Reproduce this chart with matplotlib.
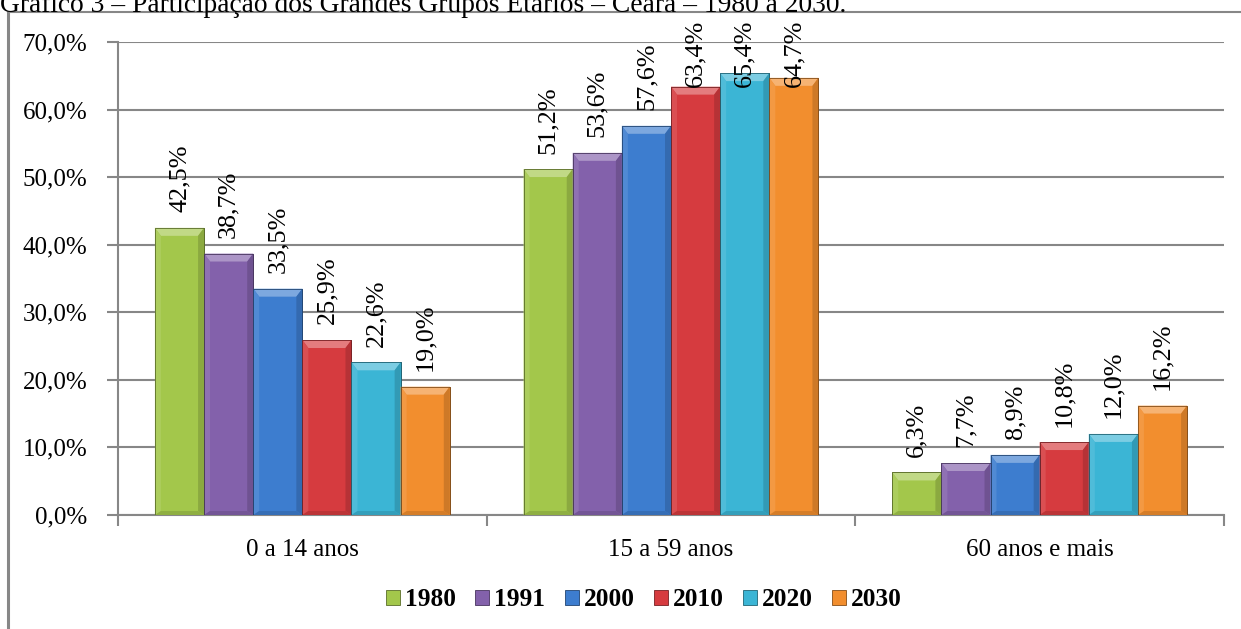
import matplotlib
matplotlib.use("Agg")
import matplotlib.pyplot as plt
from matplotlib.patches import Rectangle, Polygon
from matplotlib.lines import Line2D
from matplotlib.colors import to_rgb
import numpy as np

categories = ["0 a 14 anos", "15 a 59 anos", "60 anos e mais"]
years = ["1980", "1991", "2000", "2010", "2020", "2030"]
values = {
    "1980": [42.5, 51.2, 6.3],
    "1991": [38.7, 53.6, 7.7],
    "2000": [33.5, 57.6, 8.9],
    "2010": [25.9, 63.4, 10.8],
    "2020": [22.6, 65.4, 12.0],
    "2030": [19.0, 64.7, 16.2],
}
colors = {
    "1980": "#A3C74B",
    "1991": "#8361AB",
    "2000": "#3D7DCF",
    "2010": "#D63B3F",
    "2020": "#3BB5D5",
    "2030": "#F28E2E",
}
yticks = [0, 10, 20, 30, 40, 50, 60, 70]
title = "Gráfico 3 – Participação dos Grandes Grupos Etários – Ceará – 1980 a 2030."

plt.rcParams["font.family"] = ["Liberation Serif", "DejaVu Serif"]
FS = 18
GRAY = "#878787"

fig = plt.figure(figsize=(12.41, 6.29), dpi=100)
ax = fig.add_axes([0.0951, 0.1812, 0.8912, 0.7520])

# outer chart frame (left and top edges)
fig.add_artist(Line2D([8 / 1241, 8 / 1241], [0, 1 - 12 / 629], transform=fig.transFigure,
                      color=GRAY, lw=2.2))
fig.add_artist(Line2D([8 / 1241, 1], [1 - 12 / 629, 1 - 12 / 629], transform=fig.transFigure,
                      color=GRAY, lw=1.5))
fig.text(0.0, 1 - 11.5 / 629, title, fontsize=19.8, va="baseline", ha="left")


def mix(c, t, amt):
    c = np.array(to_rgb(c))
    t = np.array(to_rgb(t))
    return tuple(c + (t - c) * amt)


bw = 0.1333
x = np.arange(len(categories))
bx = 6 / 369            # bevel in data units (x)
by = 8 / 6.757          # bevel in data units (y)
label_gap = 2.3         # gap between bar top and its label
label_cap = 63.3        # labels never start higher than this (kept inside the chart area)

for i, yr in enumerate(years):
    col = colors[yr]
    xs = x + (i - 2.5) * bw
    bars = ax.bar(xs, values[yr], width=bw, color=col, edgecolor=mix(col, "black", 0.45),
                  linewidth=0.6, zorder=3)
    for rect, v in zip(bars, values[yr]):
        x0 = rect.get_x()
        x1 = x0 + rect.get_width()
        h = rect.get_height()
        b = min(by, h / 2)
        # bevel faces
        ax.add_patch(Polygon([(x0, h), (x1, h), (x1 - bx, h - b), (x0 + bx, h - b)],
                             closed=True, color=mix(col, "white", 0.33), lw=0, zorder=4))
        ax.add_patch(Polygon([(x0, 0), (x0, h), (x0 + bx, h - b), (x0 + bx, b * 0.5)],
                             closed=True, color=mix(col, "white", 0.10), lw=0, zorder=4))
        ax.add_patch(Polygon([(x1, 0), (x1, h), (x1 - bx, h - b), (x1 - bx, b * 0.5)],
                             closed=True, color=mix(col, "black", 0.15), lw=0, zorder=4))
        ax.add_patch(Polygon([(x0, 0), (x1, 0), (x1 - bx, b * 0.5), (x0 + bx, b * 0.5)],
                             closed=True, color=mix(col, "black", 0.12), lw=0, zorder=4))
        ax.add_patch(Rectangle((x0, 0), x1 - x0, h, fill=False,
                               edgecolor=mix(col, "black", 0.45), lw=0.6, zorder=5))
        ax.text(rect.get_x() + rect.get_width() / 2, min(h + label_gap, label_cap),
                f"{v:.1f}%".replace(".", ","), rotation=90, ha="center", va="bottom",
                fontsize=18.8, zorder=6, clip_on=False)

ax.set_xlim(-0.5, 2.5)
ax.set_ylim(0, 70)
ax.set_yticks(yticks)
ax.set_yticklabels([f"{t:.1f}%".replace(".", ",") for t in yticks], fontsize=FS)
ax.set_xticks(x)
ax.set_xticklabels(categories, fontsize=FS)
ax.tick_params(axis="x", length=0, pad=17)
ax.set_xticks([-0.5, 0.5, 1.5, 2.5], minor=True)
ax.tick_params(axis="x", which="minor", length=8, width=1.5, color=GRAY, direction="out")
ax.tick_params(axis="y", length=8, width=1.5, color=GRAY, direction="out", pad=14)
ax.yaxis.grid(True, color=GRAY, lw=1.5, zorder=0)
ax.set_axisbelow(True)
for s in ["top", "right"]:
    ax.spines[s].set_visible(False)
for s in ["left", "bottom"]:
    ax.spines[s].set_color(GRAY)
    ax.spines[s].set_linewidth(1.5)

handles = [Rectangle((0, 0), 1, 1, facecolor=colors[yr],
                     edgecolor=mix(colors[yr], "black", 0.45), lw=0.6) for yr in years]
fig.legend(handles, years, loc="center", bbox_to_anchor=(0.519, 1 - 600 / 629), ncol=6,
           frameon=False, prop={"size": 18.3, "weight": "bold"}, handlelength=0.55,
           handleheight=0.55, handletextpad=0.2, columnspacing=0.75)

fig.savefig("out.png", dpi=100)
